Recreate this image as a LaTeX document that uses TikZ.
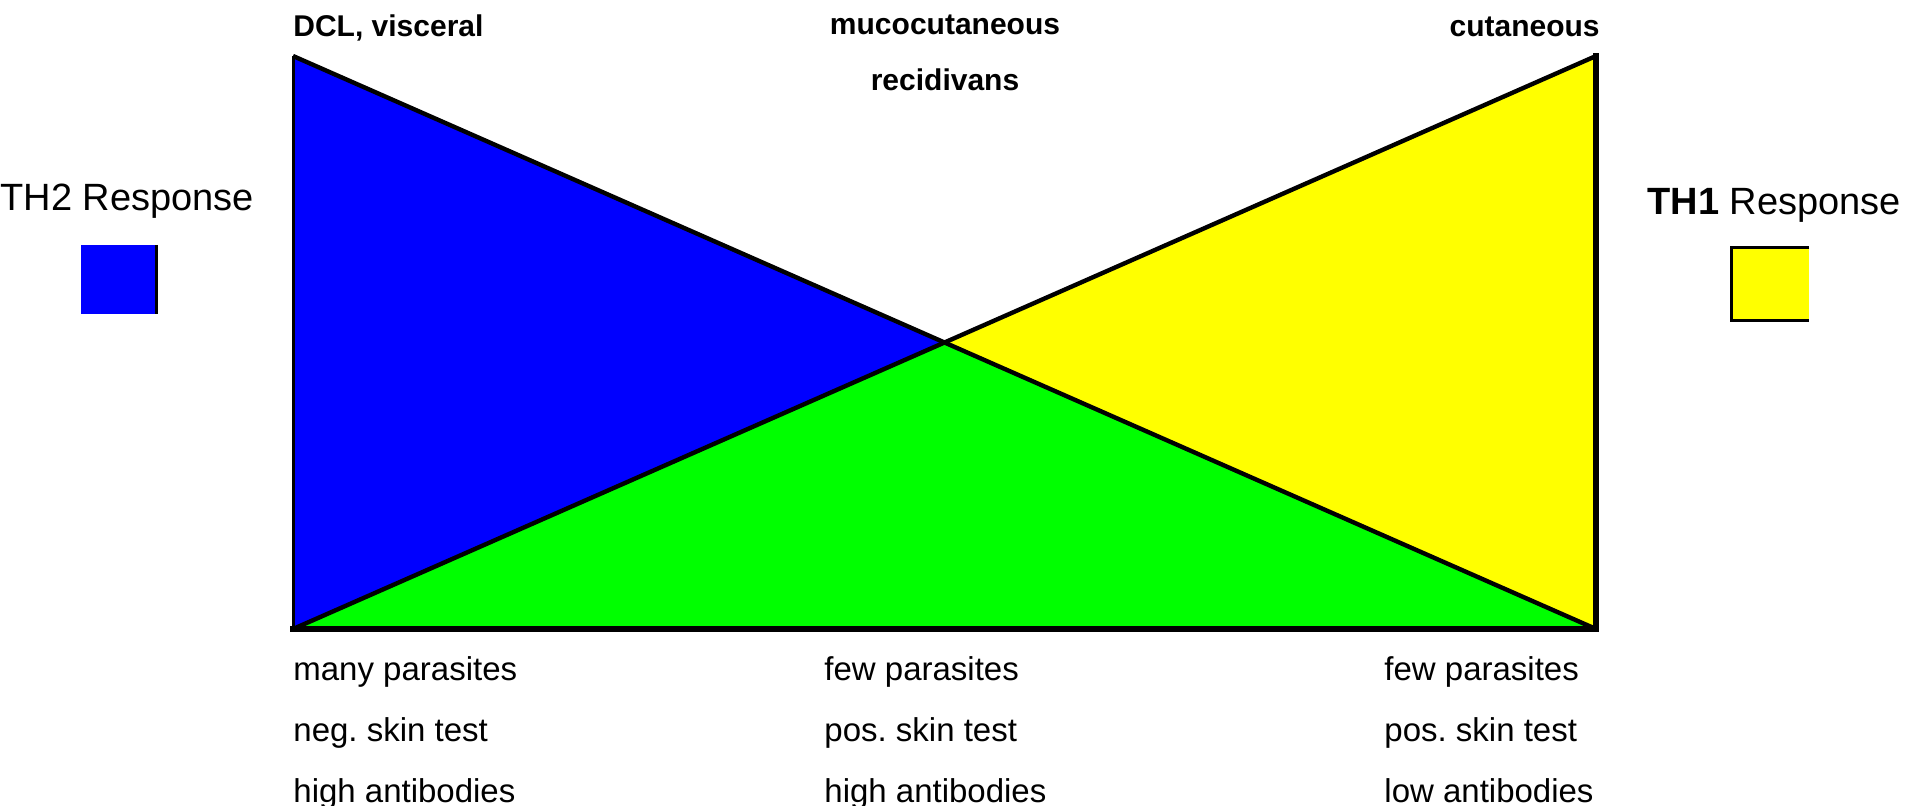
\documentclass[tikz,border=0pt]{standalone}
\usepackage{fontspec}
\setmainfont{Liberation Sans}
\usetikzlibrary{positioning}
\definecolor{thtwo}{RGB}{0,0,255}
\definecolor{thone}{RGB}{255,255,0}
\definecolor{mixed}{RGB}{0,255,0}
\tikzstyle{diag}=[black, line width=2.2pt]
\tikzstyle{side}=[black, line width=3pt]
\frenchspacing

\begin{document}
\begin{tikzpicture}[x=0.5pt, y=-0.5pt,
  toplabel/.style={inner sep=0pt, font=\fontsize{15}{18}\selectfont\bfseries},
  rowlabel/.style={inner sep=0pt, font=\fontsize{16.5}{20}\selectfont},
  keylabel/.style={inner sep=0pt, font=\fontsize{19}{22}\selectfont}
]
\useasboundingbox (0,0) rectangle (1909,806);
\coordinate (tl)  at (293,56);
\coordinate (bl)  at (293,629);
\coordinate (tr)  at (1596,56);
\coordinate (br)  at (1596,629);
\coordinate (mid) at (944.5,342.5);

\fill[thtwo] (tl) -- (bl) -- (mid) -- cycle;
\fill[thone] (tr) -- (br) -- (mid) -- cycle;
\fill[mixed] (bl) -- (br) -- (mid) -- cycle;
\draw[diag] (tl) -- (br);
\draw[diag] (bl) -- (tr);
\draw[side, line width=1.5pt] (tl) -- (bl);
\draw[side, line cap=rect] (bl) -- (br) -- (tr);

\node[toplabel, anchor=base west] (dcl)   at (293,37)   {DCL, visceral};
\node[toplabel, anchor=base]      (muco)  at (945,35)   {mucocutaneous};
\node[toplabel, anchor=base]      (recid) at (945,91)   {recidivans};
\node[toplabel, anchor=base east] (cut)   at (1600,37)  {cutaneous};

\node[rowlabel, anchor=base west] (many)  at (293,680)  {many parasites};
\node[rowlabel, anchor=base west] (neg)   at (293,741)  {neg. skin test};
\node[rowlabel, anchor=base west] (highl) at (293,802)  {high antibodies};
\node[rowlabel, anchor=base west] (fewm)  at (824,680)  {few parasites};
\node[rowlabel, anchor=base west] (posm)  at (824,741)  {pos. skin test};
\node[rowlabel, anchor=base west] (highm) at (824,802)  {high antibodies};
\node[rowlabel, anchor=base west] (fewr)  at (1384,680) {few parasites};
\node[rowlabel, anchor=base west] (posr)  at (1384,741) {pos. skin test};
\node[rowlabel, anchor=base west] (lowr)  at (1384,802) {low antibodies};

\node[keylabel, anchor=base west] (thtwokey) at (0,211)    {TH2 Response};
\node[keylabel, anchor=base west] (thonekey) at (1647,215) {\textbf{TH1} Response};
\fill[thtwo] (81,245) rectangle (157,314);
\draw[black, line width=1.5pt] (156,245) -- (156,314);
\fill[thone] (1731,248) rectangle (1809,321);
\draw[black, line width=1.5pt] (1809,248) -- (1731,248) -- (1731,321) -- (1809,321);
\end{tikzpicture}
\end{document}
